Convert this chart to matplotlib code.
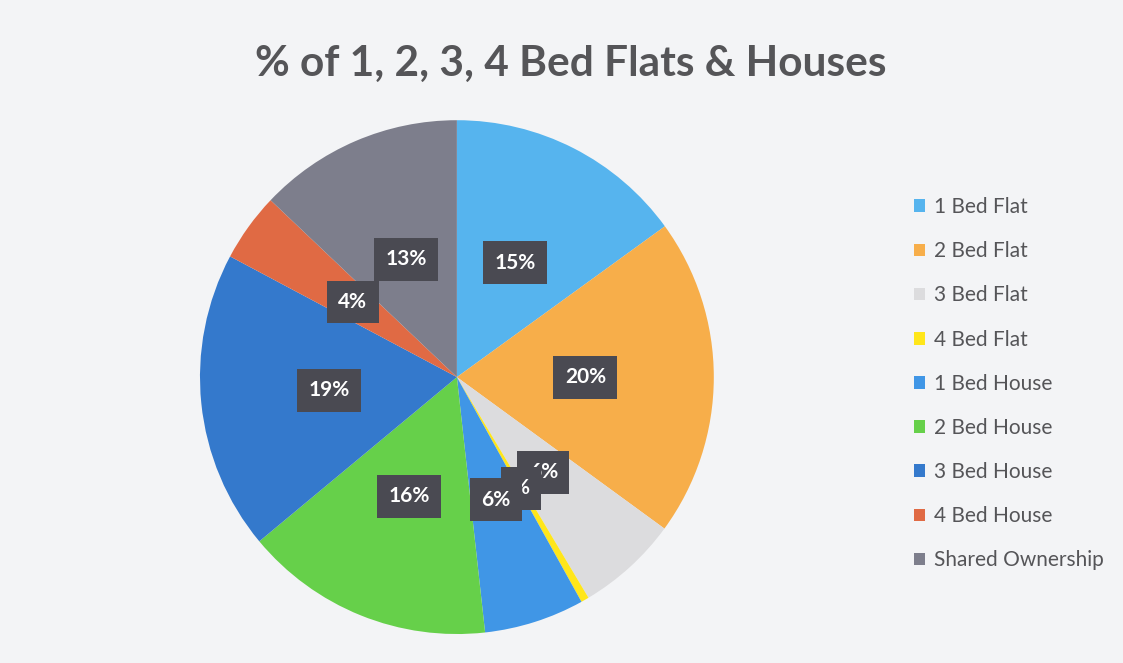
import numpy as np
import matplotlib.pyplot as plt
from matplotlib.patches import Patch

plt.rc('font', family=['Lato', 'DejaVu Sans'])

# data
categories = ['1 Bed Flat', '2 Bed Flat', '3 Bed Flat', '4 Bed Flat', '1 Bed House',
              '2 Bed House', '3 Bed House', '4 Bed House', 'Shared Ownership']
shares = [15.0, 20.0, 6.4, 0.5, 6.3, 15.7, 18.8, 4.3, 12.9]
colors = ['#56B4EE', '#F7AE4A', '#DCDCDE', '#FFE61A', '#4096E6',
          '#66D04A', '#3479CC', '#E06A44', '#7D7E8C']

bg = '#F3F4F6'
fig = plt.figure(figsize=(11.23, 6.63), dpi=100, facecolor=bg)
ax = fig.add_axes([0.178, 0.0437, 0.4577, 0.775])
ax.set_facecolor(bg)

wedges, texts = ax.pie(shares, colors=colors, startangle=90, counterclock=False,
                       radius=1.0, labels=None)

total = sum(shares)
for w, v in zip(wedges, shares):
    ang = np.deg2rad((w.theta1 + w.theta2) / 2)
    x, y = 0.5 * np.cos(ang), 0.5 * np.sin(ang)
    ax.text(x, y, f'{round(v / total * 100):.0f}%' if v >= 1 else '%',
            ha='center', va='center', color='white', fontsize=15, fontweight='bold',
            bbox=dict(boxstyle='square,pad=0.55', facecolor='#4A4A52', edgecolor='none'))

ax.set_xlim(-1, 1)
ax.set_ylim(-1, 1)
ax.set_aspect('equal')
ax.axis('off')

fig.text(0.508, 0.903, '% of 1, 2, 3, 4 Bed Flats & Houses', ha='center', va='center',
         fontsize=30.5, fontweight='bold', color='#555558')

handles = [Patch(facecolor=c, edgecolor='none') for c in colors]
fig.legend(handles, categories, loc='upper left', bbox_to_anchor=(0.797, 0.731),
           frameon=False, fontsize=15, labelcolor='#555558',
           handlelength=0.55, handleheight=0.55, handletextpad=0.4, labelspacing=1.16)

fig.savefig('out.png', dpi=100, facecolor=bg)
